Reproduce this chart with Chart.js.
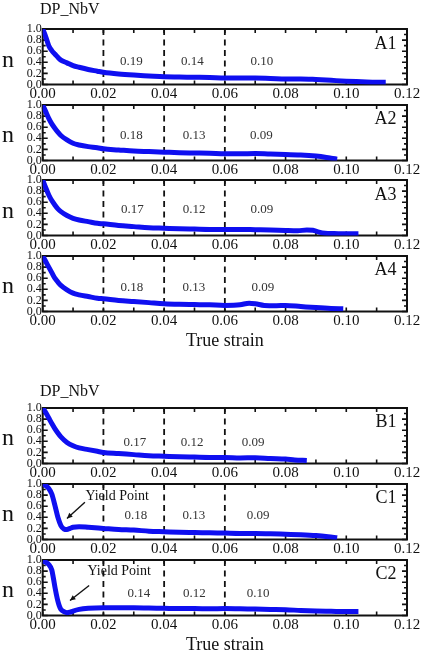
<!DOCTYPE html>
<html><head><meta charset="utf-8">
<script src="https://cdn.jsdelivr.net/npm/chart.js@4.4.1/dist/chart.umd.min.js"></script>
<style>
html,body{margin:0;padding:0;background:#fff;}
#wrap{position:relative;width:429px;height:657px;overflow:hidden;font-family:"Liberation Serif","Times New Roman",serif;color:#111;}
.cv{position:absolute;left:0;}
.txt{position:absolute;white-space:nowrap;line-height:1;}
</style></head><body><div id="wrap"></div>
<script>
// ---------- tick labels ----------
const xTickLabels = ['0.00','0.02','0.04','0.06','0.08','0.10','0.12'];
const yTickLabels = ['0.0','0.2','0.4','0.6','0.8','1.0'];
const dashedStrains = [0.02, 0.04, 0.06];
const panelNames = ['A1','A2','A3','A4','B1','C1','C2'];

// ---------- data: true strain vs n ----------
const A1_strain = [0,0.001,0.002,0.003,0.004,0.005,0.006,0.008,0.010,0.012,0.015,0.018,0.020,0.025,0.030,0.035,0.040,0.045,0.050,0.055,0.060,0.065,0.070,0.075,0.080,0.085,0.090,0.095,0.100,0.105,0.110,0.113];
const A1_n      = [1.00,0.86,0.70,0.61,0.55,0.49,0.44,0.39,0.34,0.31,0.27,0.24,0.22,0.19,0.17,0.155,0.14,0.135,0.13,0.125,0.115,0.115,0.115,0.11,0.10,0.10,0.09,0.075,0.06,0.05,0.04,0.04];
const A1_avg = ['0.19','0.14','0.10'];

const A2_strain = [0,0.001,0.002,0.003,0.004,0.005,0.006,0.008,0.010,0.012,0.015,0.018,0.020,0.025,0.030,0.035,0.040,0.045,0.050,0.055,0.060,0.065,0.070,0.075,0.080,0.085,0.090,0.093,0.095,0.097];
const A2_n      = [1.00,0.88,0.76,0.66,0.58,0.51,0.45,0.37,0.31,0.28,0.25,0.23,0.21,0.19,0.17,0.16,0.15,0.14,0.135,0.13,0.12,0.12,0.125,0.115,0.11,0.10,0.08,0.06,0.04,0.025];
const A2_avg = ['0.18','0.13','0.09'];

const A3_strain = [0,0.001,0.002,0.003,0.004,0.005,0.006,0.008,0.010,0.012,0.015,0.018,0.020,0.025,0.030,0.035,0.040,0.045,0.050,0.055,0.060,0.065,0.070,0.075,0.080,0.084,0.087,0.089,0.091,0.093,0.096,0.100,0.104];
const A3_n      = [1.00,0.86,0.73,0.63,0.55,0.48,0.43,0.36,0.31,0.28,0.25,0.22,0.21,0.18,0.16,0.14,0.13,0.12,0.115,0.11,0.11,0.11,0.105,0.10,0.09,0.085,0.10,0.095,0.06,0.04,0.035,0.03,0.03];
const A3_avg = ['0.17','0.12','0.09'];

const A4_strain = [0,0.001,0.002,0.003,0.004,0.005,0.006,0.008,0.010,0.012,0.015,0.018,0.020,0.025,0.030,0.035,0.040,0.045,0.050,0.055,0.060,0.065,0.068,0.070,0.073,0.077,0.080,0.085,0.090,0.095,0.099];
const A4_n      = [1.00,0.90,0.80,0.70,0.60,0.53,0.47,0.39,0.33,0.30,0.27,0.24,0.23,0.20,0.18,0.16,0.14,0.13,0.125,0.12,0.11,0.12,0.15,0.14,0.11,0.105,0.11,0.09,0.07,0.055,0.05];
const A4_avg = ['0.18','0.13','0.09'];

const B1_strain = [0,0.001,0.002,0.003,0.004,0.005,0.006,0.008,0.010,0.012,0.015,0.018,0.020,0.025,0.030,0.035,0.040,0.045,0.050,0.055,0.060,0.065,0.070,0.075,0.080,0.083,0.087];
const B1_n      = [1.00,0.92,0.82,0.72,0.63,0.55,0.48,0.38,0.32,0.28,0.25,0.22,0.20,0.18,0.16,0.14,0.13,0.12,0.115,0.11,0.11,0.10,0.105,0.09,0.08,0.065,0.055];
const B1_avg = ['0.17','0.12','0.09'];

const C1_strain = [0,0.001,0.002,0.003,0.004,0.005,0.006,0.007,0.008,0.009,0.010,0.012,0.015,0.020,0.025,0.030,0.035,0.040,0.045,0.050,0.055,0.060,0.065,0.070,0.075,0.080,0.085,0.090,0.094,0.097];
const C1_n      = [1.00,0.97,0.92,0.82,0.62,0.40,0.25,0.19,0.18,0.20,0.22,0.23,0.22,0.20,0.18,0.17,0.15,0.14,0.13,0.125,0.12,0.115,0.11,0.11,0.105,0.095,0.085,0.07,0.05,0.03];
const C1_avg = ['0.18','0.13','0.09'];

const C2_strain = [0,0.001,0.002,0.003,0.0035,0.004,0.0045,0.005,0.0055,0.006,0.007,0.008,0.009,0.010,0.012,0.015,0.020,0.025,0.030,0.035,0.040,0.045,0.050,0.055,0.060,0.065,0.070,0.075,0.080,0.085,0.090,0.095,0.100,0.104];
const C2_n      = [0.98,0.96,0.92,0.82,0.68,0.52,0.38,0.26,0.17,0.11,0.07,0.05,0.06,0.08,0.11,0.13,0.14,0.14,0.14,0.135,0.13,0.125,0.125,0.12,0.125,0.12,0.115,0.11,0.105,0.09,0.08,0.075,0.07,0.07];
const C2_avg = ['0.14','0.12','0.10'];

const seriesStrain = {A1:A1_strain,A2:A2_strain,A3:A3_strain,A4:A4_strain,B1:B1_strain,C1:C1_strain,C2:C2_strain};
const seriesN      = {A1:A1_n,A2:A2_n,A3:A3_n,A4:A4_n,B1:B1_n,C1:C1_n,C2:C2_n};
const seriesAvg    = {A1:A1_avg,A2:A2_avg,A3:A3_avg,A4:A4_avg,B1:B1_avg,C1:C1_avg,C2:C2_avg};

// ---------- layout (positions only) ----------
const PLOT_LEFT = 42.7, PLOT_RIGHT = 407, PLOT_H = 55.5, PAD_T = 12, XAX_H = 20;
const layout = {
  A1:{top:29.3,  ax:[0.0292,0.0493,0.0722], ay:0.42},
  A2:{top:104.5, ax:[0.0292,0.0499,0.0720], ay:0.45},
  A3:{top:180,   ax:[0.0295,0.0499,0.0722], ay:0.47},
  A4:{top:255.5, ax:[0.0294,0.0498,0.0725], ay:0.44},
  B1:{top:407.5, ax:[0.0304,0.0492,0.0693], ay:0.37},
  C1:{top:483.5, ax:[0.0307,0.0498,0.0710], ay:0.43,
      yieldText:[0.0245,0.775], arrowFrom:[0.0139,0.67], arrowTo:[0.0080,0.38]},
  C2:{top:559.5, ax:[0.0317,0.0500,0.0710], ay:0.39,
      yieldText:[0.0252,0.79], arrowFrom:[0.0153,0.54], arrowTo:[0.0090,0.27]}
};
const FONT = '"Liberation Serif","Times New Roman",serif';

const deco = {
  id:'deco',
  beforeDatasetsDraw(chart){
    const {ctx, chartArea:a, scales:{x,y}} = chart;
    ctx.save();
    ctx.strokeStyle='#111';
    ctx.lineWidth=1.8; ctx.setLineDash([6,4.5]);
    dashedStrains.forEach(s=>{const px=x.getPixelForValue(s);ctx.beginPath();ctx.moveTo(px,a.top);ctx.lineTo(px,a.bottom);ctx.stroke();});
    ctx.setLineDash([]);
    ctx.lineWidth=2;
    ctx.strokeRect(a.left,a.top,a.right-a.left,a.bottom-a.top);
    ctx.lineWidth=1.6;
    for(let i=0;i<=12;i++){
      const px=x.getPixelForValue(i*0.01);
      ctx.beginPath();ctx.moveTo(px,a.top);ctx.lineTo(px,a.top+4);
      ctx.moveTo(px,a.bottom);ctx.lineTo(px,a.bottom-4);ctx.stroke();
    }
    for(let i=0;i<=10;i++){
      const py=y.getPixelForValue(i*0.1); const L=i%2===0?5:3;
      ctx.beginPath();ctx.moveTo(a.left,py);ctx.lineTo(a.left+L,py);
      ctx.moveTo(a.right,py);ctx.lineTo(a.right-L,py);ctx.stroke();
    }
    ctx.restore();
  },
  afterDatasetsDraw(chart,args,o){
    const {ctx, scales:{x,y}} = chart;
    const L=o.lay;
    ctx.save();
    ctx.fillStyle='#333'; ctx.font='13px '+FONT; ctx.textAlign='center'; ctx.textBaseline='middle';
    o.avg.forEach((t,i)=>ctx.fillText(t,x.getPixelForValue(L.ax[i]),y.getPixelForValue(L.ay)));
    if(L.yieldText){
      ctx.fillStyle='#111'; ctx.font='14px '+FONT;
      ctx.fillText('Yield Point',x.getPixelForValue(L.yieldText[0]),y.getPixelForValue(L.yieldText[1]));
      const x1=x.getPixelForValue(L.arrowFrom[0]),y1=y.getPixelForValue(L.arrowFrom[1]);
      const x2=x.getPixelForValue(L.arrowTo[0]),y2=y.getPixelForValue(L.arrowTo[1]);
      ctx.strokeStyle='#111';ctx.lineWidth=1.4;
      ctx.beginPath();ctx.moveTo(x1,y1);ctx.lineTo(x2,y2);ctx.stroke();
      const ang=Math.atan2(y2-y1,x2-x1),h=6;
      ctx.beginPath();ctx.moveTo(x2,y2);
      ctx.lineTo(x2-h*Math.cos(ang-0.45),y2-h*Math.sin(ang-0.45));
      ctx.lineTo(x2-h*Math.cos(ang+0.45),y2-h*Math.sin(ang+0.45));
      ctx.closePath();ctx.fillStyle='#111';ctx.fill();
    }
    ctx.restore();
  }
};

const wrap=document.getElementById('wrap');
function addText(txt,css){const d=document.createElement('div');d.className='txt';d.textContent=txt;Object.assign(d.style,css);wrap.appendChild(d);}

panelNames.forEach(name=>{
  const L=layout[name];
  const cv=document.createElement('canvas');
  cv.className='cv'; cv.width=429; cv.height=88;
  cv.style.top=(L.top-PAD_T)+'px'; cv.style.width='429px'; cv.style.height='88px';
  wrap.appendChild(cv);
  const pts=seriesStrain[name].map((s,i)=>({x:s,y:seriesN[name][i]}));
  new Chart(cv,{
    type:'line',
    data:{datasets:[{data:pts,borderColor:'rgb(15,15,240)',borderWidth:5,pointRadius:0,cubicInterpolationMode:'monotone',fill:false}]},
    options:{
      responsive:false, animation:false, devicePixelRatio:1,
      layout:{padding:{left:0,right:429-PLOT_RIGHT,top:PAD_T,bottom:88-PAD_T-PLOT_H-XAX_H}},
      plugins:{legend:{display:false},tooltip:{enabled:false},deco:{lay:L,avg:seriesAvg[name]}},
      scales:{
        x:{type:'linear',min:0,max:0.12,
           grid:{display:false,drawTicks:false},border:{display:false},
           ticks:{stepSize:0.02,autoSkip:false,maxRotation:0,minRotation:0,padding:1,color:'#111',
                  font:{family:FONT,size:15},callback:(v,i)=>xTickLabels[i]},
           afterFit:s=>{s.height=XAX_H;}},
        y:{type:'linear',min:0,max:1,
           grid:{display:false,drawTicks:false},border:{display:false},
           ticks:{stepSize:0.2,autoSkip:false,padding:1,color:'#111',
                  font:{family:FONT,size:12},callback:(v,i)=>yTickLabels[i]},
           afterFit:s=>{s.width=PLOT_LEFT;}}
      }
    },
    plugins:[deco]
  });
  addText('n',{left:'2px',top:(L.top+PLOT_H/2-10)+'px',fontSize:'24px'});
  addText(name,{right:(429-396.5)+'px',top:(L.top+4.9)+'px',fontSize:'18px'});
});
addText('DP_NbV',{left:'40px',top:'0.6px',fontSize:'16px'});
addText('DP_NbV',{left:'40px',top:'382.5px',fontSize:'16px'});
addText('True strain',{left:PLOT_LEFT+'px',width:(PLOT_RIGHT-PLOT_LEFT)+'px',textAlign:'center',top:'330.9px',fontSize:'18px'});
addText('True strain',{left:PLOT_LEFT+'px',width:(PLOT_RIGHT-PLOT_LEFT)+'px',textAlign:'center',top:'634.9px',fontSize:'18px'});
</script></body></html>
